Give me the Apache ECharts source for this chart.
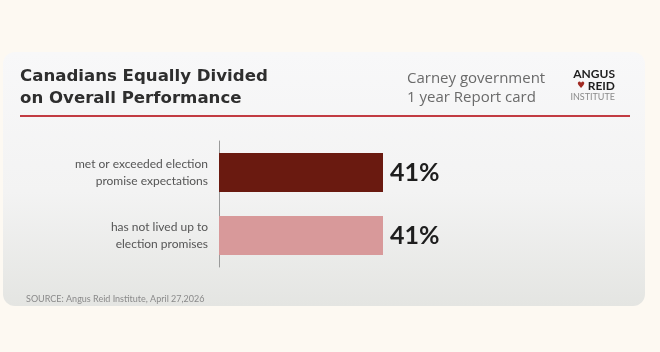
<!DOCTYPE html>
<html>
<head>
<meta charset="utf-8">
<script src="https://cdn.jsdelivr.net/npm/echarts@6/dist/echarts.min.js"></script>
<style>
  html, body { margin: 0; padding: 0; background: #fdf9f2; }
  #main { width: 660px; height: 352px; }
</style>
</head>
<body>
<div id="main"></div>
<script>
// categories, top to bottom
var categories = ['met or exceeded election\npromise expectations', 'has not lived up to\nelection promises'];
var values = [41, 41];
var barColors = ['#6a1a10', '#d8999a'];

var chart = echarts.init(document.getElementById('main'));

var option = {
	backgroundColor: '#fdf9f2',
	animation: false,
	graphic: [
		{
			type: 'rect', z: -10,
			shape: { x: 3, y: 52, width: 642, height: 254, r: 12 },
			style: {
				fill: {
					type: 'linear', x: 0, y: 0, x2: 0, y2: 1,
					colorStops: [
						{ offset: 0, color: '#f8f8f9' },
						{ offset: 0.55, color: '#f3f3f3' },
						{ offset: 1, color: '#e4e5e2' }
					]
				}
			}
		},
		{ type: 'text', left: 20, top: 66, style: { text: 'Canadians Equally Divided\non Overall Performance', font: 'bold 16.6px "DejaVu Sans"', fill: '#2e2e2e', lineHeight: 22 } },
		{ type: 'text', left: 407, top: 69, style: { text: 'Carney government\n1 year Report card', font: '15px "Open Sans"', fill: '#6a6a6a', lineHeight: 19 } },
		{ type: 'line', shape: { x1: 20, y1: 116, x2: 630, y2: 116 }, style: { stroke: '#c23b42', lineWidth: 2 } },
		// logo
		{ type: 'text', right: 45, top: 68, style: { text: 'ANGUS', font: 'bold 12px Lato', fill: '#1e1e1e', align: 'right' } },
		{ type: 'text', right: 45, top: 80, style: { text: 'REID', font: 'bold 12px Lato', fill: '#1e1e1e', align: 'right' } },
		{ type: 'text', left: 577, top: 81, style: { text: '\u2665', font: 'bold 9px DejaVu Sans', fill: '#a02a22' } },
		{ type: 'text', right: 45, top: 93, style: { text: 'INSTITUTE', font: '9px Lato', fill: '#8a8a8a', align: 'right' } },
		{ type: 'text', left: 26, top: 295, style: { text: 'SOURCE: Angus Reid Institute, April 27,2026', font: '9px Lato', fill: '#8a8a8a' } }
	],
	grid: { left: 219, top: 141, width: 400, height: 126 },
	xAxis: { type: 'value', min: 0, max: 100, show: false },
	yAxis: {
		type: 'category',
		inverse: true,
		data: categories,
		axisLine: { show: true, lineStyle: { color: '#9a9a9a', width: 1 } },
		axisTick: { show: false },
		axisLabel: { margin: 11, color: '#555', fontSize: 12, fontFamily: 'Lato', lineHeight: 17, align: 'right' }
	},
	series: [{
		type: 'bar',
		barWidth: 39,
		data: values.map(function (v, i) {
			return { value: v, itemStyle: { color: barColors[i] } };
		}),
		label: {
			show: true,
			position: 'right',
			distance: 7,
			formatter: '{c}%',
			color: '#1e1e1e',
			fontSize: 25,
			fontWeight: 'bold',
			fontFamily: 'Lato'
		}
	}]
};

chart.setOption(option);
</script>
</body>
</html>
